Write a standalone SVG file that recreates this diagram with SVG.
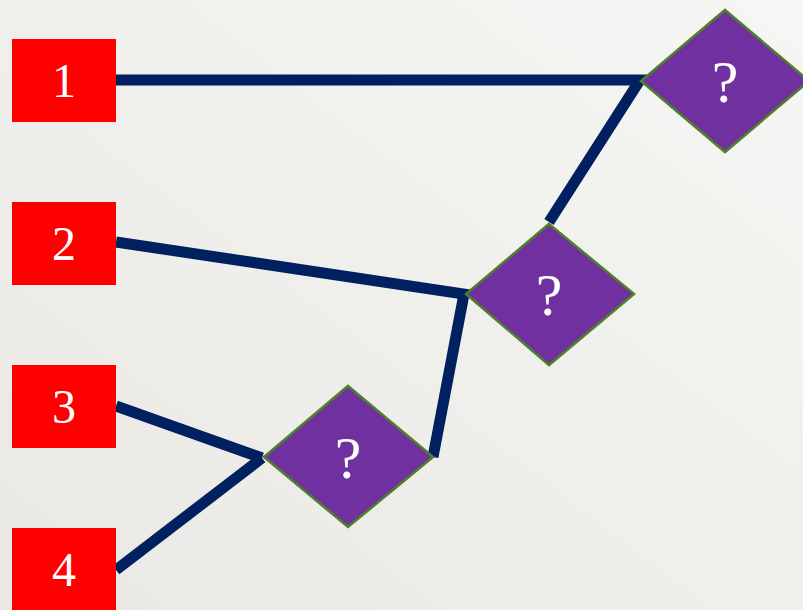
<svg xmlns="http://www.w3.org/2000/svg" width="803" height="610" viewBox="0 0 803 610">
<defs>
<linearGradient id="bg" x1="1" y1="0" x2="0" y2="1">
<stop offset="0" stop-color="#f6f6f4"/>
<stop offset="1" stop-color="#e9e8e4"/>
</linearGradient>
<style>
.box{fill:#ff0000}
.dia{fill:#7030a0;stroke:#4e7f2a;stroke-width:2.5}
.num{fill:#ffffff;font-family:"Liberation Serif",serif;font-size:48px;text-anchor:middle}
.q{fill:#ffffff;font-family:"Liberation Serif",serif;font-size:60px;text-anchor:middle}
.ln{fill:none;stroke:#002060;stroke-width:11;stroke-linejoin:miter}
</style>
</defs>
<rect width="803" height="610" fill="url(#bg)"/>
<g id="connectors">
<polyline class="ln" points="116,80 640,80 549,222"/>
<polyline class="ln" points="116,242 464,294 433,457"/>
<line class="ln" x1="116" y1="406" x2="262" y2="458"/>
<line class="ln" x1="116" y1="570" x2="262" y2="458"/>
</g>
<g id="n1"><rect class="box" x="12" y="39" width="104" height="83"/><text class="num" x="64" y="97">1</text></g>
<g id="n2"><rect class="box" x="12" y="202" width="104" height="83"/><text class="num" x="64" y="260">2</text></g>
<g id="n3"><rect class="box" x="12" y="365" width="104" height="83"/><text class="num" x="64" y="423">3</text></g>
<g id="n4"><rect class="box" x="12" y="528" width="104" height="83"/><text class="num" x="64" y="586">4</text></g>
<g id="q1"><polygon class="dia" points="725,10 809,81 725,152 641,81"/><text class="q" x="725" y="102">?</text></g>
<g id="q2"><polygon class="dia" points="549,224 634,294 549,365 466,294"/><text class="q" x="549" y="315">?</text></g>
<g id="q3"><polygon class="dia" points="348,386 433,457 348,527 264,457"/><text class="q" x="348" y="478">?</text></g>
</svg>
